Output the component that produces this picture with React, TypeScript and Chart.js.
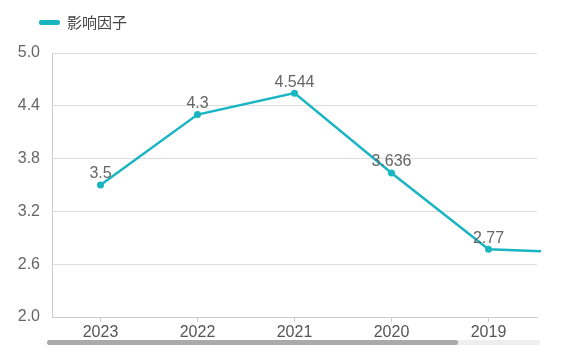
import React, { useEffect, useRef } from "react";
import { Chart, registerables } from "chart.js";

Chart.register(...registerables);

const categories = ["2023", "2022", "2021", "2020", "2019", "2018"];
const seriesName = "影响因子";
const seriesValues = [3.5, 4.3, 4.544, 3.636, 2.77, 2.73];
const visibleCount = 5;
const yMin = 2.0;
const yMax = 5.0;
const yStep = 0.6;

const TEAL = "#19b5c3";
const LABEL_FONT = "'Liberation Sans', 'Noto Sans', Arial, sans-serif";
const CJK_FONT = "'Noto Sans CJK SC', 'Liberation Sans', sans-serif";

const decorPlugin = {
  id: "decor",
  afterDatasetsDraw(chart: any) {
    const ctx = chart.ctx;
    const meta = chart.getDatasetMeta(0);
    ctx.save();
    ctx.font = `16px ${LABEL_FONT}`;
    ctx.fillStyle = "#666666";
    ctx.textAlign = "center";
    ctx.textBaseline = "bottom";
    meta.data.forEach((pt: any, i: number) => {
      if (i >= visibleCount) return;
      ctx.fillText(String(seriesValues[i]), pt.x, pt.y - 3);
    });
    ctx.restore();
  },
  afterDraw(chart: any) {
    const ctx = chart.ctx;
    const area = chart.chartArea;
    ctx.save();
    // legend
    ctx.fillStyle = TEAL;
    const lx = area.left - 13;
    const ly = 20;
    ctx.beginPath();
    (ctx as any).roundRect(lx, ly, 21, 5, 2);
    ctx.fill();
    ctx.font = `15px ${CJK_FONT}`;
    ctx.fillStyle = "#444444";
    ctx.textAlign = "left";
    ctx.textBaseline = "middle";
    ctx.fillText(seriesName, lx + 28, ly + 2.5);
    // scroll bar (data zoom)
    const sy = area.bottom + 23;
    const sx = area.left - 5;
    const sw = area.right - area.left + 8;
    ctx.fillStyle = "#eeeeee";
    ctx.beginPath();
    (ctx as any).roundRect(sx, sy, sw, 5, 2.5);
    ctx.fill();
    ctx.fillStyle = "#aaaaaa";
    ctx.beginPath();
    (ctx as any).roundRect(sx, sy, sw * 0.834, 5, 2.5);
    ctx.fill();
    ctx.restore();
  },
};

export default function App() {
  const ref = useRef<HTMLCanvasElement | null>(null);
  useEffect(() => {
    document.body.style.margin = "0";
    const chart = new Chart(ref.current as HTMLCanvasElement, {
      type: "line",
      data: {
        labels: categories,
        datasets: [
          {
            label: seriesName,
            data: seriesValues,
            borderColor: TEAL,
            backgroundColor: TEAL,
            borderWidth: 2.5,
            pointRadius: 3.5,
            pointBackgroundColor: TEAL,
            pointBorderWidth: 0,
            tension: 0,
          },
        ],
      },
      options: {
        animation: false,
        responsive: false,
        layout: { padding: { top: 53, right: 26, left: 0, bottom: 0 } },
        plugins: { legend: { display: false }, tooltip: { enabled: false } },
        scales: {
          x: {
            type: "category",
            offset: true,
            grid: { drawOnChartArea: false, drawTicks: true, tickLength: 5, color: "#cccccc" },
            border: { display: true, color: "#cccccc" },
            ticks: { color: "#555555", font: { size: 16, family: LABEL_FONT }, padding: 1, maxRotation: 0, autoSkip: false },
            afterDataLimits: (s: any) => { s.min = 0; s.max = visibleCount - 1; },
            afterFit: (s: any) => { s.height = 46; },
          },
          y: {
            min: yMin,
            max: yMax,
            grid: { color: "#dddddd", drawTicks: false },
            border: { display: true, color: "#cccccc" },
            ticks: {
              stepSize: yStep,
              color: "#666666",
              padding: 12,
              font: { size: 16, family: LABEL_FONT },
              callback: (v: any) => Number(v).toFixed(1),
            },
            afterFit: (s: any) => { s.width = 52; },
          },
        },
      },
      plugins: [decorPlugin],
    });
    return () => chart.destroy();
  }, []);
  return (
    <div style={{ width: 563, height: 363 }}>
      <canvas ref={ref} width={563} height={363} style={{ display: "block" }} />
    </div>
  );
}
